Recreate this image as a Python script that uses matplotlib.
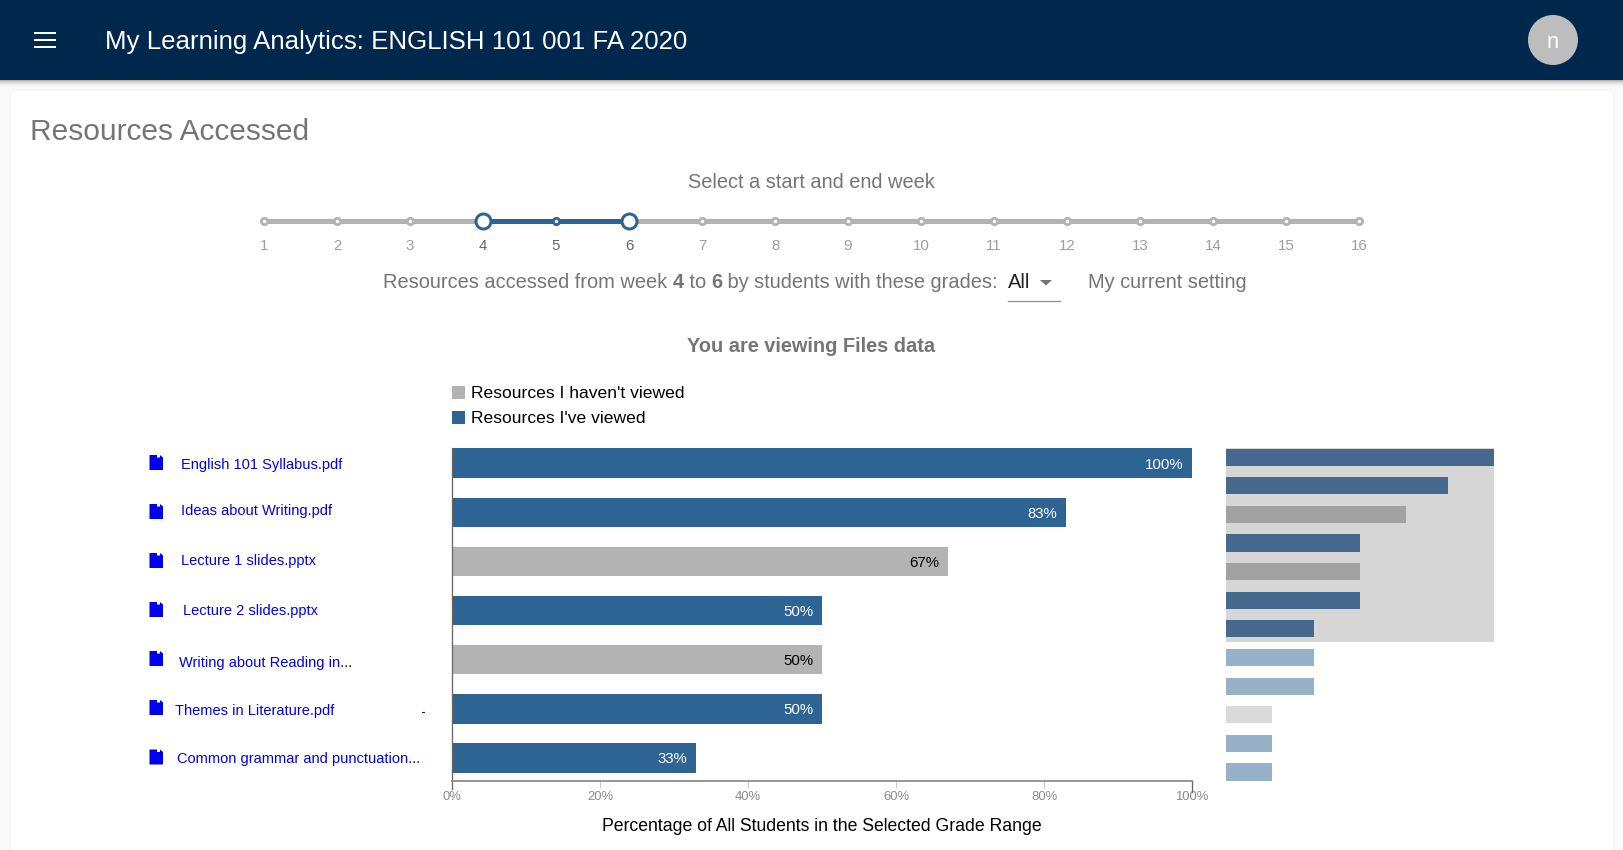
import matplotlib
matplotlib.use("Agg")
import matplotlib.pyplot as plt
from matplotlib.patches import Rectangle, Polygon, Ellipse, FancyBboxPatch

W, H = 1623, 850
FONT = ["Liberation Sans", "DejaVu Sans"]

weeks = list(range(1, 17))
week_start = 4
week_end = 6

resources = ["English 101 Syllabus.pdf", "Ideas about Writing.pdf", "Lecture 1 slides.pptx",
             "Lecture 2 slides.pptx", "Writing about Reading in...", "Themes in Literature.pdf",
             "Common grammar and punctuation..."]
percents = [100, 83, 67, 50, 50, 50, 33]
viewed = [True, True, False, True, False, True, True]
label_x = [181, 181, 181, 183, 179, 175, 177]
label_y = [463, 510, 560, 609, 661, 710, 758]
icon_y = [462.5, 511.5, 560.5, 609.5, 658.5, 707.5, 757]

mini_percents = [100, 83, 67, 50, 50, 50, 33, 33, 33, 17, 17, 17]
mini_viewed = [True, True, False, True, False, True, True, True, True, False, True, True]
n_selected = 7

x_ticks = [0, 20, 40, 60, 80, 100]

NAVY = "#00274c"
BLUE = "#2d6494"
GREY = "#b3b3b3"
TEXT = "#757575"


def px(size):
    return size * 0.72


def axes_at(x0, y0, x1, y1):
    return fig.add_axes([x0 / W, 1 - y1 / H, (x1 - x0) / W, (y1 - y0) / H])


plt.rcParams["font.family"] = FONT
fig = plt.figure(figsize=(W / 100, H / 100), dpi=100, facecolor="#fafafa")

# page furniture in pixel coordinates
page = fig.add_axes([0, 0, 1, 1])
page.set_xlim(0, W)
page.set_ylim(H, 0)
page.axis("off")

page.add_patch(FancyBboxPatch((10, 90), 1604, 800, boxstyle="round,pad=0,rounding_size=4",
                              fc="white", ec="#f3f3f3", lw=1))
for i, a in enumerate([0.28, 0.2, 0.13, 0.08, 0.05, 0.03, 0.015]):
    page.add_patch(Rectangle((0, 80 + i), W, 1, fc="black", alpha=a, lw=0))
page.add_patch(Rectangle((0, 0), W, 80, fc=NAVY, lw=0))
for y in [33, 40, 47]:
    page.add_patch(Rectangle((33.5, y - 1.4), 22.5, 2.8, fc="white", lw=0))
page.text(105, 39.5, "My Learning Analytics: ENGLISH 101 001 FA 2020", color="white",
          fontsize=px(25.9), va="center_baseline")
page.add_patch(Ellipse((1553, 40), 50, 50, fc="#bdbdbd", lw=0))
page.text(1553, 39.5, "n", color="white", fontsize=px(22), ha="center", va="center_baseline")

page.text(30, 129, "Resources Accessed", color=TEXT, fontsize=px(29.9), va="center_baseline")
page.text(811, 180, "Select a start and end week", color=TEXT, fontsize=px(20),
          ha="center", va="center_baseline")

# sentence with bold week numbers, one piece after the other
x = 383
pieces = [("Resources accessed from week ", "normal"), (str(week_start), "bold"), (" to ", "normal"),
          (str(week_end), "bold"), (" by students with these grades:", "normal")]
renderer = fig.canvas.get_renderer()
for s, weight in pieces:
    t = page.text(x, 281, s, color=TEXT, fontsize=px(20), weight=weight, va="center_baseline")
    x = t.get_window_extent(renderer).x1
page.text(1008, 280, "All", color="#222222", fontsize=px(20), va="center_baseline")
page.add_patch(Polygon([[1040, 280], [1052, 280], [1046, 285.5]], fc=TEXT, lw=0))
page.plot([1008, 1060], [301, 301], color="#8f8f8f", lw=px(1.3))
page.text(1088.5, 281, "My current setting", color=TEXT, fontsize=px(20), va="center_baseline")

page.text(811.5, 344, "You are viewing Files data", color=TEXT, fontsize=px(20),
          weight="bold", ha="center", va="center_baseline")

# legend
page.add_patch(Rectangle((452, 386), 12.5, 12.5, fc=GREY, lw=0))
page.add_patch(Rectangle((452, 411), 12.5, 12.5, fc=BLUE, lw=0))
page.text(471, 391.5, "Resources I haven't viewed", color="black", fontsize=px(17.5), va="center_baseline")
page.text(471, 416.5, "Resources I've viewed", color="black", fontsize=px(17.5), va="center_baseline")

# resource names with file icons
for name, lx, ly, iy in zip(resources, label_x, label_y, icon_y):
    page.add_patch(Polygon([[149.5, iy - 7.5], [157, iy - 7.5], [157, iy - 5], [160, iy - 5],
                            [160, iy - 7.5], [163, iy - 5], [163, iy + 7.5], [149.5, iy + 7.5]],
                           fc="#0000f0", lw=0))
    page.text(lx, ly, name, color="#0000ee", fontsize=px(14.65), va="center_baseline")
page.plot([422, 423.5], [712, 712], color="#0000ee", lw=0.7)

# week slider
slider = axes_at(264, 211, 1359, 231)
slider.set_xlim(1, 16)
slider.set_ylim(0, 1)
slider.axis("off")
slider.plot([weeks[0], weeks[-1]], [0.5, 0.5], color=GREY, lw=px(5), solid_capstyle="round", clip_on=False)
slider.plot([week_start, week_end], [0.5, 0.5], color=BLUE, lw=px(5), clip_on=False)
for w in weeks:
    in_range = week_start <= w <= week_end
    if w in (week_start, week_end):
        slider.plot(w, 0.5, "o", ms=px(15), mfc="white", mec=BLUE, mew=px(3), clip_on=False, zorder=4)
    else:
        slider.plot(w, 0.5, "o", ms=px(6.3), mfc="white", mec=BLUE if in_range else GREY, mew=px(2.8),
                    clip_on=False, zorder=4)
    slider.text(w, -0.68, str(w), color="#666666" if in_range else "#9e9e9e", fontsize=px(15),
                ha="center", va="center_baseline")

# main bar chart
ax = axes_at(452, 448, 1192, 781)
ax.patch.set_alpha(0)
ax.set_xlim(0, 100)
ax.set_ylim(6.47, -0.31)
ax.barh(range(len(percents)), percents, height=0.6, color=[BLUE if v else GREY for v in viewed], lw=0)
for i, (p, v) in enumerate(zip(percents, viewed)):
    ax.annotate(f"{p}%", (p, i), xytext=(-9 * 0.72, 0), textcoords="offset points", ha="right", va="center_baseline",
                color="white" if v else "black", fontsize=px(15))
for s in ["top", "right"]:
    ax.spines[s].set_visible(False)
ax.spines["left"].set_color("#666666")
ax.spines["left"].set_linewidth(px(1.3))
ax.spines["left"].set_bounds(6.63, -0.31)
ax.spines["bottom"].set_color("#777777")
ax.spines["bottom"].set_linewidth(px(1.5))
ax.set_yticks([])
ax.set_xticks(x_ticks)
ax.set_xticklabels([f"{t}%" for t in x_ticks], fontsize=px(13), color="#8a8a8a")
ax.tick_params(axis="x", length=px(7), width=px(1), color="#c8c8c8", pad=2)
ax.plot([100, 100], [6.47, 6.7], color="#666666", lw=px(1.3), clip_on=False)
ax.set_xlabel("Percentage of All Students in the Selected Grade Range", fontsize=px(17.6),
              color="black", labelpad=11)

# overview bars at the right
mini = axes_at(1226, 448, 1494, 782)
mini.set_xlim(0, 100)
mini.set_ylim(11.35, -0.32)
mini.axis("off")
mini.axhspan(-0.32, n_selected - 0.55, color="#d6d6d6", lw=0)
mini_colors = []
for i, v in enumerate(mini_viewed):
    if i < n_selected:
        mini_colors.append("#44698c" if v else "#a2a2a2")
    else:
        mini_colors.append("#97b1c9" if v else "#dadada")
mini.barh(range(len(mini_percents)), mini_percents, height=0.6, color=mini_colors, lw=0)

fig.savefig("out.png", dpi=100, facecolor=fig.get_facecolor())
